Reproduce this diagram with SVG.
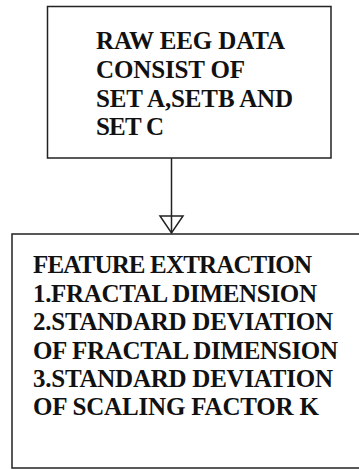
<svg xmlns="http://www.w3.org/2000/svg" width="359" height="470" viewBox="0 0 359 470">
<style>
.box{fill:#fff;stroke:#222;stroke-width:1.5}
.t{font-family:'Liberation Serif','Times New Roman','DejaVu Serif',serif;font-weight:700;fill:#111;font-size:25px}
.edge{stroke:#222;stroke-width:1.5;fill:none}
</style>
<rect width="359" height="470" fill="#fff"/>
<g id="raw">
<rect class="box" x="47.5" y="6.5" width="283.5" height="151.5"/>
<text class="t" x="96" y="49" textLength="189">RAW EEG DATA</text>
<text class="t" x="96" y="78" textLength="149">CONSIST OF</text>
<text class="t" x="96" y="106.5" textLength="197">SET A,SETB AND</text>
<text class="t" x="96" y="135" textLength="68">SET C</text>
</g>
<g id="feature">
<rect class="box" x="12" y="234" width="360" height="234"/>
<text class="t" x="33" y="273" textLength="279">FEATURE EXTRACTION</text>
<text class="t" x="33" y="301.5" textLength="284">1.FRACTAL DIMENSION</text>
<text class="t" x="33" y="330" textLength="300">2.STANDARD DEVIATION</text>
<text class="t" x="33" y="358.5" textLength="305">OF FRACTAL DIMENSION</text>
<text class="t" x="33" y="387" textLength="300">3.STANDARD DEVIATION</text>
<text class="t" x="33" y="415" textLength="286">OF SCALING FACTOR K</text>
</g>
<g id="connectors">
<line class="edge" x1="171.5" y1="158" x2="171.5" y2="233"/>
<path class="edge" d="M160,216 L183,216 L171.5,233 Z"/>
</g>
</svg>
